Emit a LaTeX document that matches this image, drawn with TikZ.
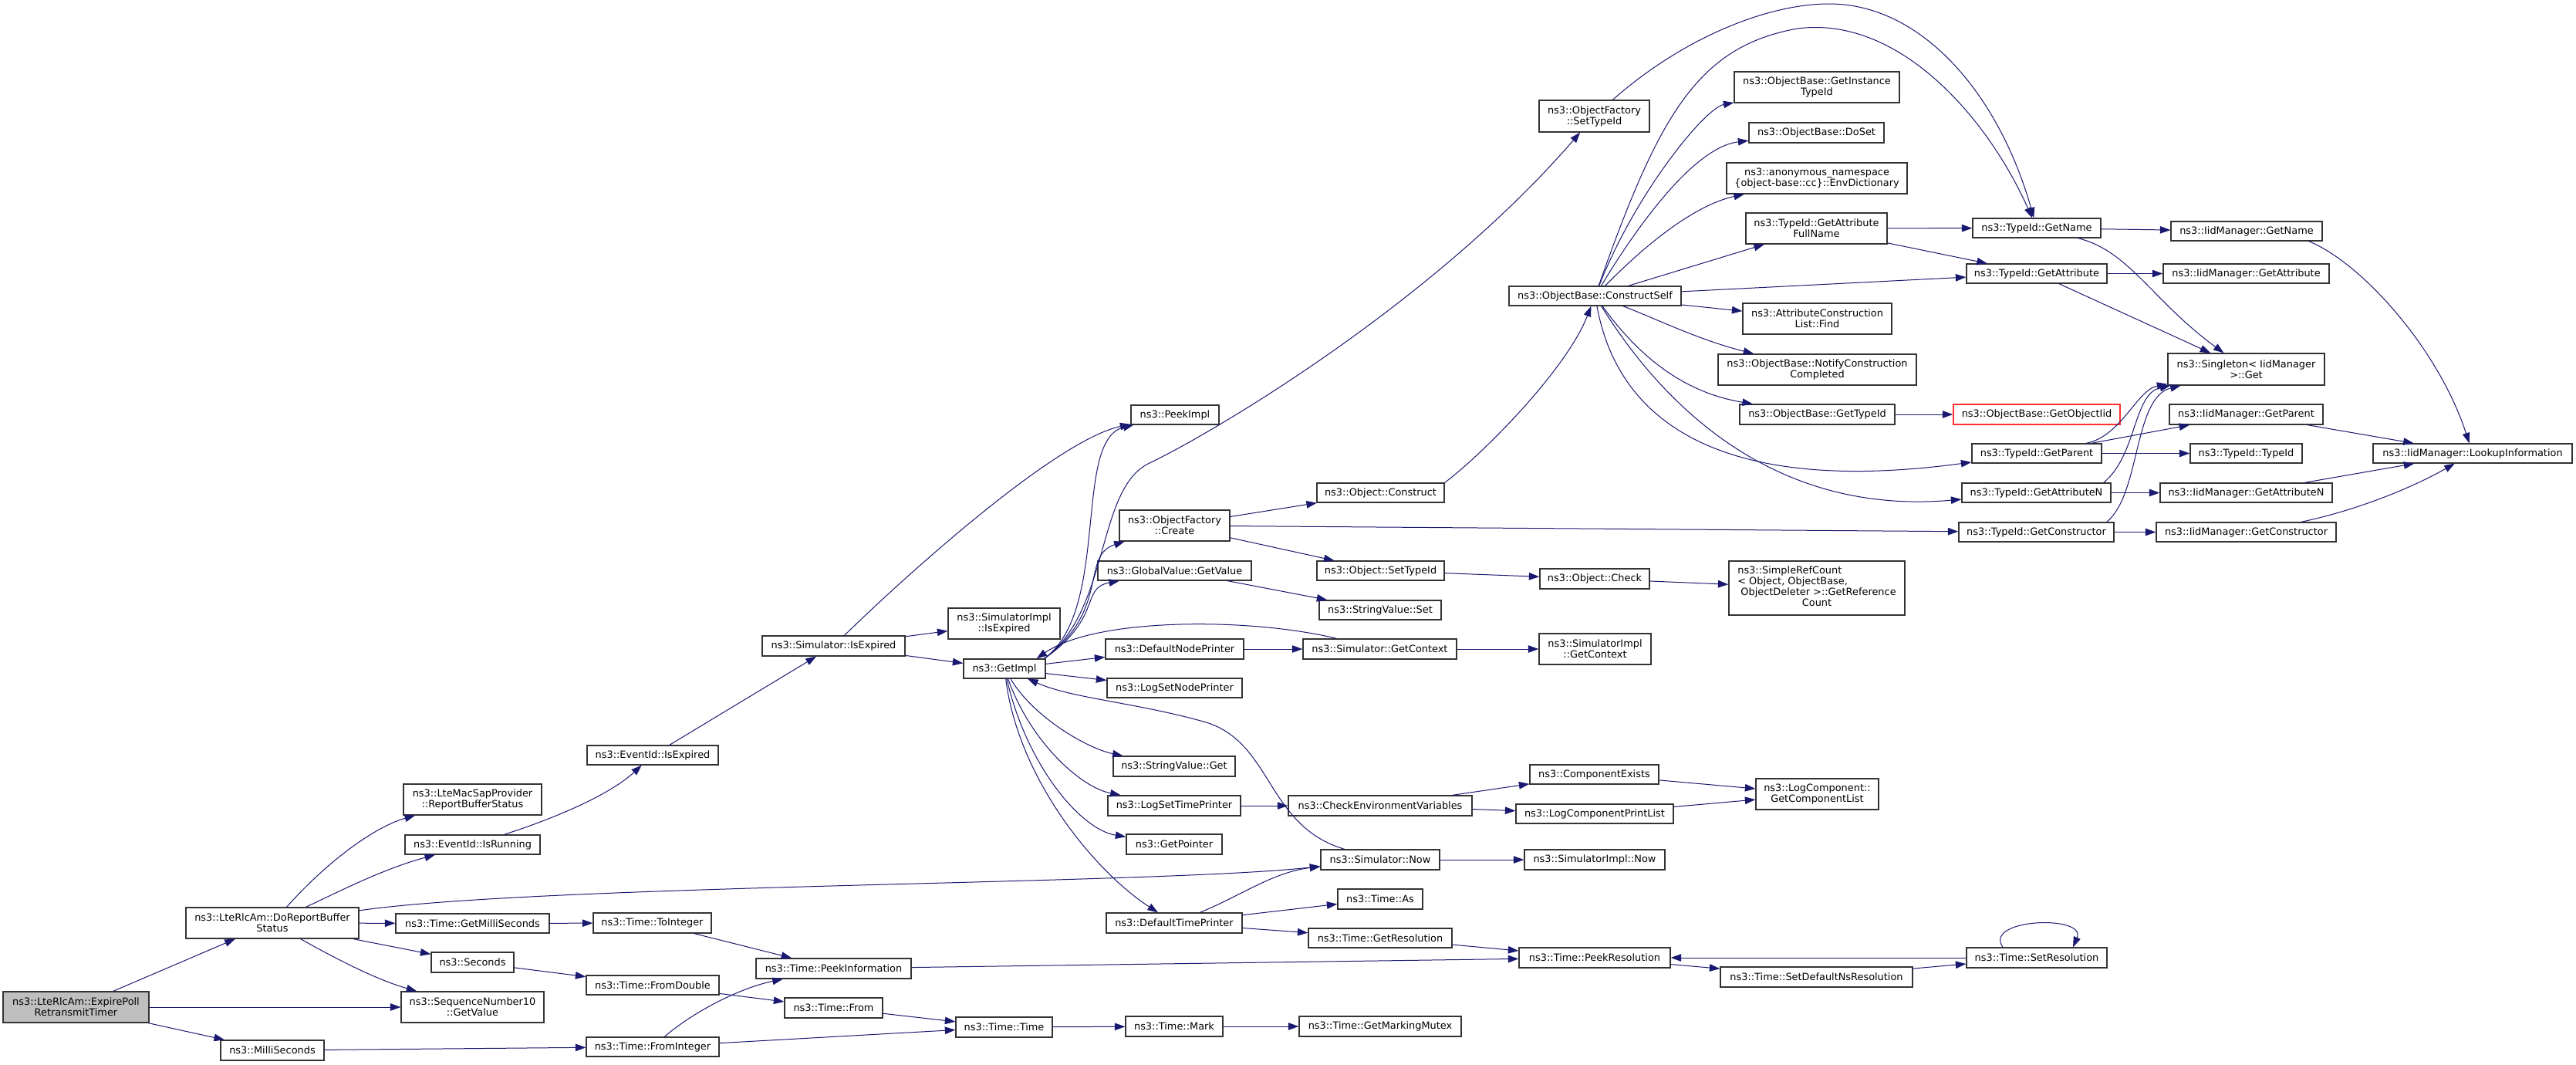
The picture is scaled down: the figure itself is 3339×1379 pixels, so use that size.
\documentclass[tikz,border=0pt]{standalone}
\usepackage{fontspec}
\setmainfont{DejaVu Sans}
\usetikzlibrary{arrows.meta}
\definecolor{edgec}{HTML}{191970}
\definecolor{grayfill}{HTML}{BFBFBF}
\definecolor{redb}{HTML}{FF3030}
\newcommand{\nfont}{\fontsize{12.9}{14}\selectfont}
\newcommand{\bx}[7][]{\node[box,#1,minimum width={(#5-#3)*1pt},minimum height={(#6-#4)*1pt}] (#2) at ({(#3+#5)/2},{(#4+#6)/2}) {#7};}
\begin{document}
\begin{tikzpicture}[x=1pt,y=-1pt,
 box/.style={draw=black!80,line width=1.3pt,fill=white,inner sep=0pt,align=center,font=\nfont},
 edge/.style={draw=edgec,line width=1pt,-{Triangle[length=13.5pt,width=9.5pt]}}]
\fill[white] (0,0) rectangle (3339,1379);
\useasboundingbox (0,0) rectangle (3339,1379);
% nodes
\bx[fill=grayfill]{expire}{4}{1285}{193}{1325}{ns3::LteRlcAm::ExpirePoll\\RetransmitTimer}
\bx{dorep}{241}{1176}{465}{1216}{ns3::LteRlcAm::DoReportBuffer\\Status}
\bx{milli}{286}{1348}{420}{1374}{ns3::MilliSeconds}
\bx{macsap}{523}{1016}{702}{1056}{ns3::LteMacSapProvider\\::ReportBufferStatus}
\bx{isrun}{525}{1082}{700}{1107}{ns3::EventId::IsRunning}
\bx{getms}{513}{1184}{712}{1209}{ns3::Time::GetMilliSeconds}
\bx{seconds}{559}{1234}{666}{1260}{ns3::Seconds}
\bx{seqten}{520}{1285}{705}{1325}{ns3::SequenceNumber10\\::GetValue}
\bx{evexp}{761}{966}{931}{991}{ns3::EventId::IsExpired}
\bx{toint}{769}{1183}{922}{1209}{ns3::Time::ToInteger}
\bx{fromdbl}{760}{1264}{932}{1289}{ns3::Time::FromDouble}
\bx{fromint}{760}{1344}{932}{1369}{ns3::Time::FromInteger}
\bx{peekinfo}{980}{1242}{1181}{1268}{ns3::Time::PeekInformation}
\bx{tfrom}{1017}{1293}{1144}{1319}{ns3::Time::From}
\bx{simexp}{988}{824}{1173}{850}{ns3::Simulator::IsExpired}
\bx{simimplexp}{1229}{788}{1374}{828}{ns3::SimulatorImpl\\::IsExpired}
\bx{getimpl}{1249}{854}{1355}{879}{ns3::GetImpl}
\bx{peekimpl}{1466}{525}{1580}{550}{ns3::PeekImpl}
\bx{ofcreate}{1451}{661}{1594}{701}{ns3::ObjectFactory\\::Create}
\bx{gvget}{1423}{727}{1622}{752}{ns3::GlobalValue::GetValue}
\bx{defnode}{1433}{828}{1612}{854}{ns3::DefaultNodePrinter}
\bx{logsetnode}{1435}{879}{1610}{904}{ns3::LogSetNodePrinter}
\bx{svget}{1443}{980}{1601}{1006}{ns3::StringValue::Get}
\bx{logsettime}{1436}{1031}{1608}{1057}{ns3::LogSetTimePrinter}
\bx{getptr}{1460}{1081}{1584}{1107}{ns3::GetPointer}
\bx{simnow}{1712}{1101}{1866}{1127}{ns3::Simulator::Now}
\bx{deftime}{1434}{1183}{1610}{1209}{ns3::DefaultTimePrinter}
\bx{ttime}{1239}{1318}{1364}{1344}{ns3::Time::Time}
\bx{tmark}{1459}{1317}{1585}{1343}{ns3::Time::Mark}
\bx{mutex}{1684}{1317}{1894}{1343}{ns3::Time::GetMarkingMutex}
\bx{tas}{1734}{1152}{1844}{1178}{ns3::Time::As}
\bx{getres}{1696}{1203}{1882}{1228}{ns3::Time::GetResolution}
\bx{peekres}{1969}{1228}{2165}{1254}{ns3::Time::PeekResolution}
\bx{setdefns}{2230}{1253}{2479}{1279}{ns3::Time::SetDefaultNsResolution}
\bx{setres}{2549}{1228}{2731}{1254}{ns3::Time::SetResolution}
\bx{simimplnow}{1976}{1101}{2158}{1127}{ns3::SimulatorImpl::Now}
\bx{checkenv}{1670}{1031}{1908}{1057}{ns3::CheckEnvironmentVariables}
\bx{compexists}{1983}{991}{2150}{1016}{ns3::ComponentExists}
\bx{logcomppl}{1965}{1042}{2169}{1067}{ns3::LogComponentPrintList}
\bx{getcomplist}{2276}{1009}{2435}{1049}{ns3::LogComponent::\\GetComponentList}
\bx{simgetctx}{1689}{828}{1888}{854}{ns3::Simulator::GetContext}
\bx{simimplctx}{1995}{821}{2140}{861}{ns3::SimulatorImpl\\::GetContext}
\bx{svset}{1710}{778}{1868}{803}{ns3::StringValue::Set}
\bx{objsettid}{1707}{727}{1872}{752}{ns3::Object::SetTypeId}
\bx{objcheck}{1996}{737}{2138}{763}{ns3::Object::Check}
\bx{simpleref}{2241}{727}{2469}{797}{\begin{tabular}{@{}l@{}}ns3::SimpleRefCount\\< Object, ObjectBase,\\\ ObjectDeleter >::GetReference\\\multicolumn{1}{@{}c@{}}{Count}\end{tabular}}
\bx{objconstruct}{1707}{626}{1872}{651}{ns3::Object::Construct}
\bx{ofsettid}{1995}{130}{2138}{171}{ns3::ObjectFactory\\::SetTypeId}
\bx{construct}{1956}{371}{2179}{396}{ns3::ObjectBase::ConstructSelf}
\bx{getinst}{2248}{93}{2462}{133}{ns3::ObjectBase::GetInstance\\TypeId}
\bx{doset}{2267}{159}{2442}{185}{ns3::ObjectBase::DoSet}
\bx{anon}{2238}{211}{2472}{251}{ns3::anonymous\_namespace\\\{object-base::cc\}::EnvDictionary}
\bx{getattrfull}{2263}{276}{2446}{316}{ns3::TypeId::GetAttribute\\FullName}
\bx{attrfind}{2259}{393}{2452}{433}{ns3::AttributeConstruction\\List::Find}
\bx{notify}{2227}{459}{2484}{499}{ns3::ObjectBase::NotifyConstruction\\Completed}
\bx{obgettid}{2255}{524}{2456}{550}{ns3::ObjectBase::GetTypeId}
\bx[draw=redb]{getobjiid}{2532}{524}{2748}{550}{ns3::ObjectBase::GetObjectIid}
\bx{tgetname}{2557}{283}{2723}{308}{ns3::TypeId::GetName}
\bx{tgetattr}{2549}{342}{2731}{367}{ns3::TypeId::GetAttribute}
\bx{tgetparent}{2556}{575}{2724}{600}{ns3::TypeId::GetParent}
\bx{tgetattrn}{2543}{626}{2736}{651}{ns3::TypeId::GetAttributeN}
\bx{tgetctor}{2539}{677}{2740}{702}{ns3::TypeId::GetConstructor}
\bx{igetname}{2814}{287}{3010}{312}{ns3::IidManager::GetName}
\bx{igetattr}{2804}{342}{3019}{367}{ns3::IidManager::GetAttribute}
\bx{singleton}{2810}{458}{3013}{499}{ns3::Singleton< IidManager\\>::Get}
\bx{igetparent}{2812}{524}{3011}{550}{ns3::IidManager::GetParent}
\bx{ttypeid}{2839}{575}{2984}{600}{ns3::TypeId::TypeId}
\bx{igetattrn}{2800}{626}{3023}{651}{ns3::IidManager::GetAttributeN}
\bx{igetctor}{2795}{677}{3028}{702}{ns3::IidManager::GetConstructor}
\bx{lookup}{3076}{575}{3334}{600}{ns3::IidManager::LookupInformation}
% edges: left part
\draw[edge] (expire) -- (dorep);
\draw[edge] (expire) -- (seqten);
\draw[edge] (expire) -- (milli);
\draw[edge] (dorep) .. controls (430,1110) and (490,1070) .. (macsap);
\draw[edge] (dorep) .. controls (450,1150) and (500,1125) .. (isrun);
\draw[edge] (dorep) .. controls (700,1146) and (1500,1146) .. (simnow);
\draw[edge] (dorep) -- (getms);
\draw[edge] (dorep) -- (seconds);
\draw[edge] (dorep) .. controls (440,1245) and (490,1270) .. (seqten);
\draw[edge] (milli) -- (fromint);
\draw[edge] (isrun) .. controls (720,1060) and (790,1030) .. (evexp);
\draw[edge] (evexp) -- (simexp);
\draw[edge] (getms) -- (toint);
\draw[edge] (toint) -- (peekinfo);
\draw[edge] (seconds) -- (fromdbl);
\draw[edge] (fromdbl) -- (tfrom);
\draw[edge] (tfrom) -- (ttime);
\draw[edge] (fromint) .. controls (900,1310) and (960,1280) .. (peekinfo);
\draw[edge] (fromint) -- (ttime);
\draw[edge] (peekinfo) -- (peekres);
\draw[edge] (ttime) -- (tmark);
\draw[edge] (tmark) -- (mutex);
\draw[edge] (simexp) -- (simimplexp);
\draw[edge] (simexp) -- (getimpl);
\draw[edge] (simexp) .. controls (1180,740) and (1370,570) .. (peekimpl);
% edges from GetImpl
\draw[edge] ([xshift=-2pt]getimpl.north east) .. controls (1440,790) and (1390,570) .. (peekimpl);
\draw[edge] ([xshift=-2pt]getimpl.north east) .. controls (1440,790) and (1420,633) .. (1490,600) .. controls (1560,567) and (1850,400) .. (ofsettid);
\draw[edge] ([xshift=-2pt]getimpl.north east) .. controls (1440,790) and (1400,720) .. (ofcreate);
\draw[edge] ([xshift=-2pt]getimpl.north east) .. controls (1430,800) and (1400,762) .. (gvget);
\draw[edge] (getimpl) -- (defnode);
\draw[edge] (getimpl) -- (logsetnode);
\draw[edge] (getimpl) .. controls (1340,930) and (1410,970) .. (svget);
\draw[edge] (getimpl) .. controls (1335,960) and (1400,1020) .. (logsettime);
\draw[edge] (getimpl) .. controls (1330,990) and (1400,1075) .. (getptr);
\draw[edge] (getimpl) .. controls (1320,1010) and (1420,1130) .. (deftime);
\draw[edge] (simgetctx) .. controls (1620,800) and (1420,800) .. ([xshift=-12pt]getimpl.north east);
\draw[edge] (simnow) .. controls (1640,1070) and (1650,960) .. (1560,935) .. controls (1470,910) and (1390,905) .. (getimpl);
\draw[edge] (defnode) -- (simgetctx);
\draw[edge] (simgetctx) -- (simimplctx);
\draw[edge] (gvget) -- (svset);
\draw[edge] (ofcreate) -- (objconstruct);
\draw[edge] (ofcreate) -- (tgetctor);
\draw[edge] (ofcreate) -- (objsettid);
\draw[edge] (objsettid) -- (objcheck);
\draw[edge] (objcheck) -- (simpleref);
\draw[edge] (objconstruct.north east) .. controls (1920,590) and (2030,480) .. (construct);
% ConstructSelf and friends
\draw[edge] (ofsettid) .. controls (2180,50) and (2290,5) .. (2371,5) .. controls (2490,5) and (2590,120) .. (tgetname);
\draw[edge] (construct) .. controls (2150,150) and (2200,60) .. (2330,37) .. controls (2460,20) and (2575,150) .. (tgetname);
\draw[edge] (construct) .. controls (2120,250) and (2210,140) .. (getinst);
\draw[edge] (construct) .. controls (2130,280) and (2200,190) .. (doset);
\draw[edge] (construct) .. controls (2140,310) and (2200,265) .. (anon);
\draw[edge] (construct) -- (getattrfull);
\draw[edge] (construct) -- (tgetattr);
\draw[edge] (construct) -- (attrfind);
\draw[edge] (construct) .. controls (2140,410) and (2200,440) .. (notify);
\draw[edge] (construct) .. controls (2130,470) and (2190,510) .. (obgettid);
\draw[edge] (construct) .. controls (2100,560) and (2250,640) .. (tgetparent);
\draw[edge] (construct) .. controls (2140,500) and (2280,670) .. (tgetattrn);
\draw[edge] (getattrfull) -- (tgetname);
\draw[edge] (getattrfull) -- (tgetattr);
\draw[edge] (obgettid) -- (getobjiid);
\draw[edge] (tgetname) -- (igetname);
\draw[edge] (tgetname) .. controls (2760,325) and (2790,390) .. (singleton);
\draw[edge] (tgetattr) -- (igetattr);
\draw[edge] (tgetattr) -- (singleton);
\draw[edge] (tgetparent) .. controls (2750,565) and (2770,505) .. (singleton);
\draw[edge] ([xshift=-10pt]tgetattrn.north east) .. controls (2770,590) and (2765,510) .. (singleton);
\draw[edge] ([xshift=-10pt]tgetctor.north east) .. controls (2775,640) and (2765,515) .. (singleton);
\draw[edge] (tgetparent) -- (igetparent);
\draw[edge] (tgetparent) -- (ttypeid);
\draw[edge] (tgetattrn) -- (igetattrn);
\draw[edge] (tgetctor) -- (igetctor);
\draw[edge] ([xshift=-18pt]igetname.south east) .. controls (3060,340) and (3160,450) .. (lookup);
\draw[edge] (igetparent) -- (lookup);
\draw[edge] (igetattrn) -- (lookup);
\draw[edge] ([xshift=-46pt]igetctor.north east) .. controls (3060,660) and (3130,630) .. (lookup);
% lower middle
\draw[edge] (logsettime) -- (checkenv);
\draw[edge] (checkenv) -- (compexists);
\draw[edge] (checkenv) -- (logcomppl);
\draw[edge] (compexists) -- (getcomplist);
\draw[edge] (logcomppl) -- (getcomplist);
\draw[edge] (simnow) -- (simimplnow);
\draw[edge] (deftime) .. controls (1610,1160) and (1650,1130) .. (simnow);
\draw[edge] (deftime) -- (tas);
\draw[edge] (deftime) -- (getres);
\draw[edge] (getres) -- (peekres);
\draw[edge] (setres) -- (peekres);
\draw[edge] (peekres) -- (setdefns);
\draw[edge] (setdefns) -- (setres);
\draw[edge] ([xshift=-44pt]setres.north) .. controls (2570,1190) and (2705,1185) .. ([xshift=47pt]setres.north);
\end{tikzpicture}
\end{document}
